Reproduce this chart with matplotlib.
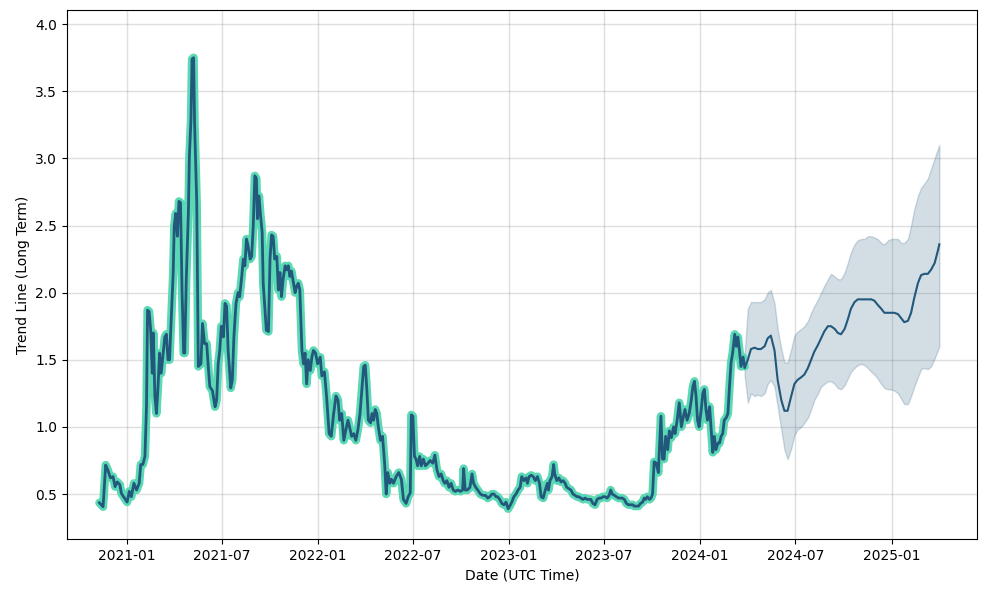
#!/usr/bin/env python3

# Long term trend line: history (fitted) + one year forecast with uncertainty band

import numpy as np
import pandas as pd
import matplotlib
matplotlib.use('Agg')
import matplotlib.pyplot as plt
import matplotlib.dates as mdates


# history: days since base date, trend value
base_date='2021-01-01'

hist_day=[-53,-46,-41,-37,-32,-27,-23,-19,-14,-11,-5,0,4,8,13,18,23,26,30,34,
    37,39,42,45,48,50,53,56,59,62,65,69,72,75,78,81,85,88,90,93,96,99,102,105,
    108,110,113,117,119,122,124,127,129,133,136,141,144,
    148,152,155,158,163,168,171,174,177,180,184,187,190,193,198,201,204,208,
    212,215,219,222,225,228,231,235,238,241,244,247,249,252,255,258,260,263,
    266,270,273,276,279,282,286,289,292,295,298,302,305,308,311,314,318,321,
    324,327,330,334,337,340,343,346,350,353,356,
    360,364,369,372,377,381,386,390,394,399,403,406,410,414,418,422,426,429,
    433,437,441,445,449,452,455,458,461,465,468,471,474,477,480,484,488,492,
    495,498,502,505,509,514,519,524,528,533,537,541,543,546,549,552,555,559,
    562,566,570,575,
    579,584,588,592,596,600,604,607,611,615,619,623,627,632,637,641,643,646,
    650,655,659,662,666,670,675,680,685,689,693,697,701,705,708,712,716,720,
    724,728,731,735,739,743,747,751,754,758,762,765,768,772,776,780,784,788,
    791,795,799,
    803,805,808,812,815,817,821,825,829,833,837,840,844,848,852,856,860,863,
    867,871,875,879,883,886,890,894,898,902,906,909,913,917,921,924,927,931,
    935,939,943,946,950,954,958,962,966,969,973,977,981,985,988,991,994,998,
    1001,1004,1007,1011,1015,1020,1023,1026,1029,1033,1036,1040,1044,1047,
    1051,1055,1059,1063,1066,1070,1074,1078,1081,1084,1087,1090,1093,1097,
    1100,1103,1106,1109,1113,1116,1119,1122,1125,1129,1132,1135,1138,1141,
    1145,1148,1151,1154,1157,1161,1164,1167,1170,1173,1177,1180]

hist_val=[0.435,0.405,0.716,0.68,0.62,0.63,0.555,0.59,0.57,0.505,0.47,0.44,0.52,
    0.48,0.58,0.53,0.58,0.72,0.72,0.78,
    1.15,1.87,1.86,1.72,1.40,1.70,1.23,1.10,1.30,1.55,1.40,1.55,1.67,1.69,1.50,
    1.50,1.87,2.15,2.50,2.59,2.42,2.68,2.67,2.00,
    1.55,1.55,2.10,2.59,3.02,3.29,3.74,3.75,3.24,2.67,1.45,1.47,1.77,
    1.62,1.62,1.45,1.30,1.27,1.15,1.20,1.47,1.57,1.75,1.67,1.92,1.90,1.57,1.29,
    1.35,1.67,1.92,
    2.00,1.97,2.12,2.25,2.20,2.40,2.35,2.25,2.27,2.50,2.87,2.85,2.55,2.72,2.57,
    2.45,2.07,1.90,
    1.72,1.71,2.25,2.43,2.42,2.25,2.27,2.02,2.15,1.97,2.10,2.20,2.17,2.20,2.12,
    2.16,2.07,2.00,
    2.05,2.07,2.02,1.57,1.47,1.55,1.32,1.50,1.42,1.52,1.57,
    1.55,1.47,1.52,1.38,1.41,1.23,0.95,0.93,1.08,1.23,1.20,1.05,1.10,0.90,0.98,
    1.05,0.98,0.93,
    0.95,0.90,0.98,1.10,1.30,1.45,1.46,1.28,1.05,1.03,1.10,1.05,1.13,1.10,1.00,
    0.90,0.93,0.73,
    0.50,0.66,0.58,0.61,0.58,0.63,0.66,0.61,0.46,0.43,0.48,0.51,1.09,1.08,0.78,
    0.76,0.71,0.78,
    0.71,0.76,0.71,0.73,
    0.75,0.73,0.79,0.68,0.63,0.65,0.60,0.58,0.60,0.55,0.58,0.53,0.52,0.53,0.52,
    0.53,0.69,0.53,
    0.53,0.55,0.65,0.58,0.55,0.53,0.50,0.49,0.49,0.47,0.48,0.50,0.50,0.48,0.48,
    0.46,0.43,0.42,
    0.44,0.39,0.41,0.44,0.48,0.50,0.53,0.55,0.63,0.60,0.62,0.58,0.63,0.64,0.63,
    0.60,0.63,0.58,
    0.48,0.47,0.53,
    0.58,0.53,0.60,0.63,0.72,0.65,0.60,0.62,0.59,0.60,0.58,0.55,0.54,0.53,0.50,
    0.49,0.48,0.48,
    0.47,0.46,0.47,0.46,0.46,0.46,0.43,0.42,0.46,0.47,0.47,0.48,0.48,0.47,0.49,
    0.53,0.50,0.49,
    0.48,0.47,0.47,0.47,0.46,0.43,0.42,0.42,0.42,0.41,0.41,0.41,0.43,0.44,0.47,
    0.46,0.48,0.46,
    0.47,0.50,0.74,0.73,0.66,1.08,0.76,0.76,0.93,0.83,0.97,0.92,1.00,0.95,
    1.05,1.18,1.00,1.08,1.13,1.05,1.10,1.20,1.30,1.34,1.23,1.05,1.00,1.13,
    1.25,1.28,1.13,1.05,1.15,0.98,0.81,0.93,0.83,0.88,0.88,0.93,0.95,1.05,
    1.07,1.10,1.30,1.48,1.55,1.69,1.60,1.67,1.57,1.45,1.52,1.45]

# forecast: days since base date, trend, lower and upper bound
fc_day=[1180,1186,1192,1199,1205,1211,1218,1224,1230,1237,1243,1250,1256,1262,
    1269,1275,1281,1288,1294,1301,1307,1313,1320,1326,1332,1339,1345,1352,1358,
    1364,1371,1377,1383,1390,1396,1403,1409,1415,1422,1428,1434,1441,1447,1454,
    1460,1466,1473,1479,1485,1492,1498,1504,1511,1517,1523,1530,1536,1543,1549,
    1552]

fc_val=[1.44,1.50,1.58,1.59,1.58,1.58,1.60,1.66,1.68,1.57,1.35,1.20,1.12,1.12,
    1.23,1.32,1.35,1.37,1.39,1.44,1.50,1.56,1.61,1.66,1.71,1.75,1.75,1.73,1.70,
    1.69,1.73,1.80,1.88,1.93,1.95,1.95,1.95,1.95,1.95,1.94,1.91,1.88,1.85,1.85,
    1.85,1.85,1.84,1.81,1.78,1.79,1.85,1.96,2.07,2.13,2.14,2.14,2.17,2.22,2.31,
    2.36]

fc_upper=[1.55,1.88,1.93,1.93,1.93,1.93,1.95,2.00,2.02,1.92,1.73,1.58,1.48,1.48,
    1.58,1.68,1.71,1.73,1.75,1.79,1.85,1.90,1.95,2.00,2.05,2.10,2.14,2.12,2.10,
    2.10,2.15,2.22,2.30,2.36,2.39,2.40,2.40,2.42,2.42,2.41,2.40,2.37,2.36,2.39,
    2.40,2.40,2.40,2.37,2.37,2.40,2.50,2.62,2.72,2.78,2.81,2.85,2.92,3.00,3.07,
    3.10]

fc_lower=[1.38,1.18,1.25,1.23,1.24,1.23,1.25,1.32,1.35,1.30,1.15,0.98,0.83,0.76,
    0.84,0.94,0.98,1.00,1.03,1.07,1.13,1.20,1.25,1.30,1.32,1.34,1.34,1.32,1.29,
    1.28,1.31,1.36,1.41,1.44,1.46,1.47,1.46,1.44,1.41,1.39,1.36,1.32,1.29,1.28,
    1.28,1.27,1.25,1.21,1.17,1.17,1.23,1.30,1.37,1.43,1.44,1.43,1.45,1.51,1.57,
    1.60]

# axis range
x_range=['2020-09-08','2025-06-13']
y_range=[0.165,4.105]


def main():

    base=pd.Timestamp(base_date)
    hist_date=base+pd.to_timedelta(hist_day,unit='D')
    fc_date=base+pd.to_timedelta(fc_day,unit='D')

    c_actual='#5bd8b4'
    c_trend='#22587c'
    c_band='#22587c'

    fig,ax=plt.subplots(figsize=(9.89,5.9),dpi=100)
    fig.subplots_adjust(left=0.0677,right=0.9879,top=0.983,bottom=0.0864)

    # uncertainty band of forecast
    ax.fill_between(fc_date,fc_lower,fc_upper,color=c_band,alpha=0.2,linewidth=1)

    # actual (thick) and fitted trend line
    ax.plot(hist_date,hist_val,color=c_actual,linewidth=6.0,solid_capstyle='round',
        solid_joinstyle='round')
    ax.plot(hist_date,hist_val,color=c_trend,linewidth=2.0)
    ax.plot(fc_date,fc_val,color=c_trend,linewidth=1.5)

    ax.set_xlim(pd.Timestamp(x_range[0]),pd.Timestamp(x_range[1]))
    ax.set_ylim(y_range)

    ax.grid(True,color='gray',alpha=0.25,linewidth=1)
    ax.set_axisbelow(True)
    ax.xaxis.set_major_locator(mdates.MonthLocator(bymonth=[1,7]))
    ax.xaxis.set_major_formatter(mdates.DateFormatter('%Y-%m'))

    ax.set_xlabel('Date (UTC Time)')
    ax.set_ylabel('Trend Line (Long Term)')

    plt.savefig('out.png',dpi=100)
    plt.close('all')


if __name__=='__main__':
    main()
